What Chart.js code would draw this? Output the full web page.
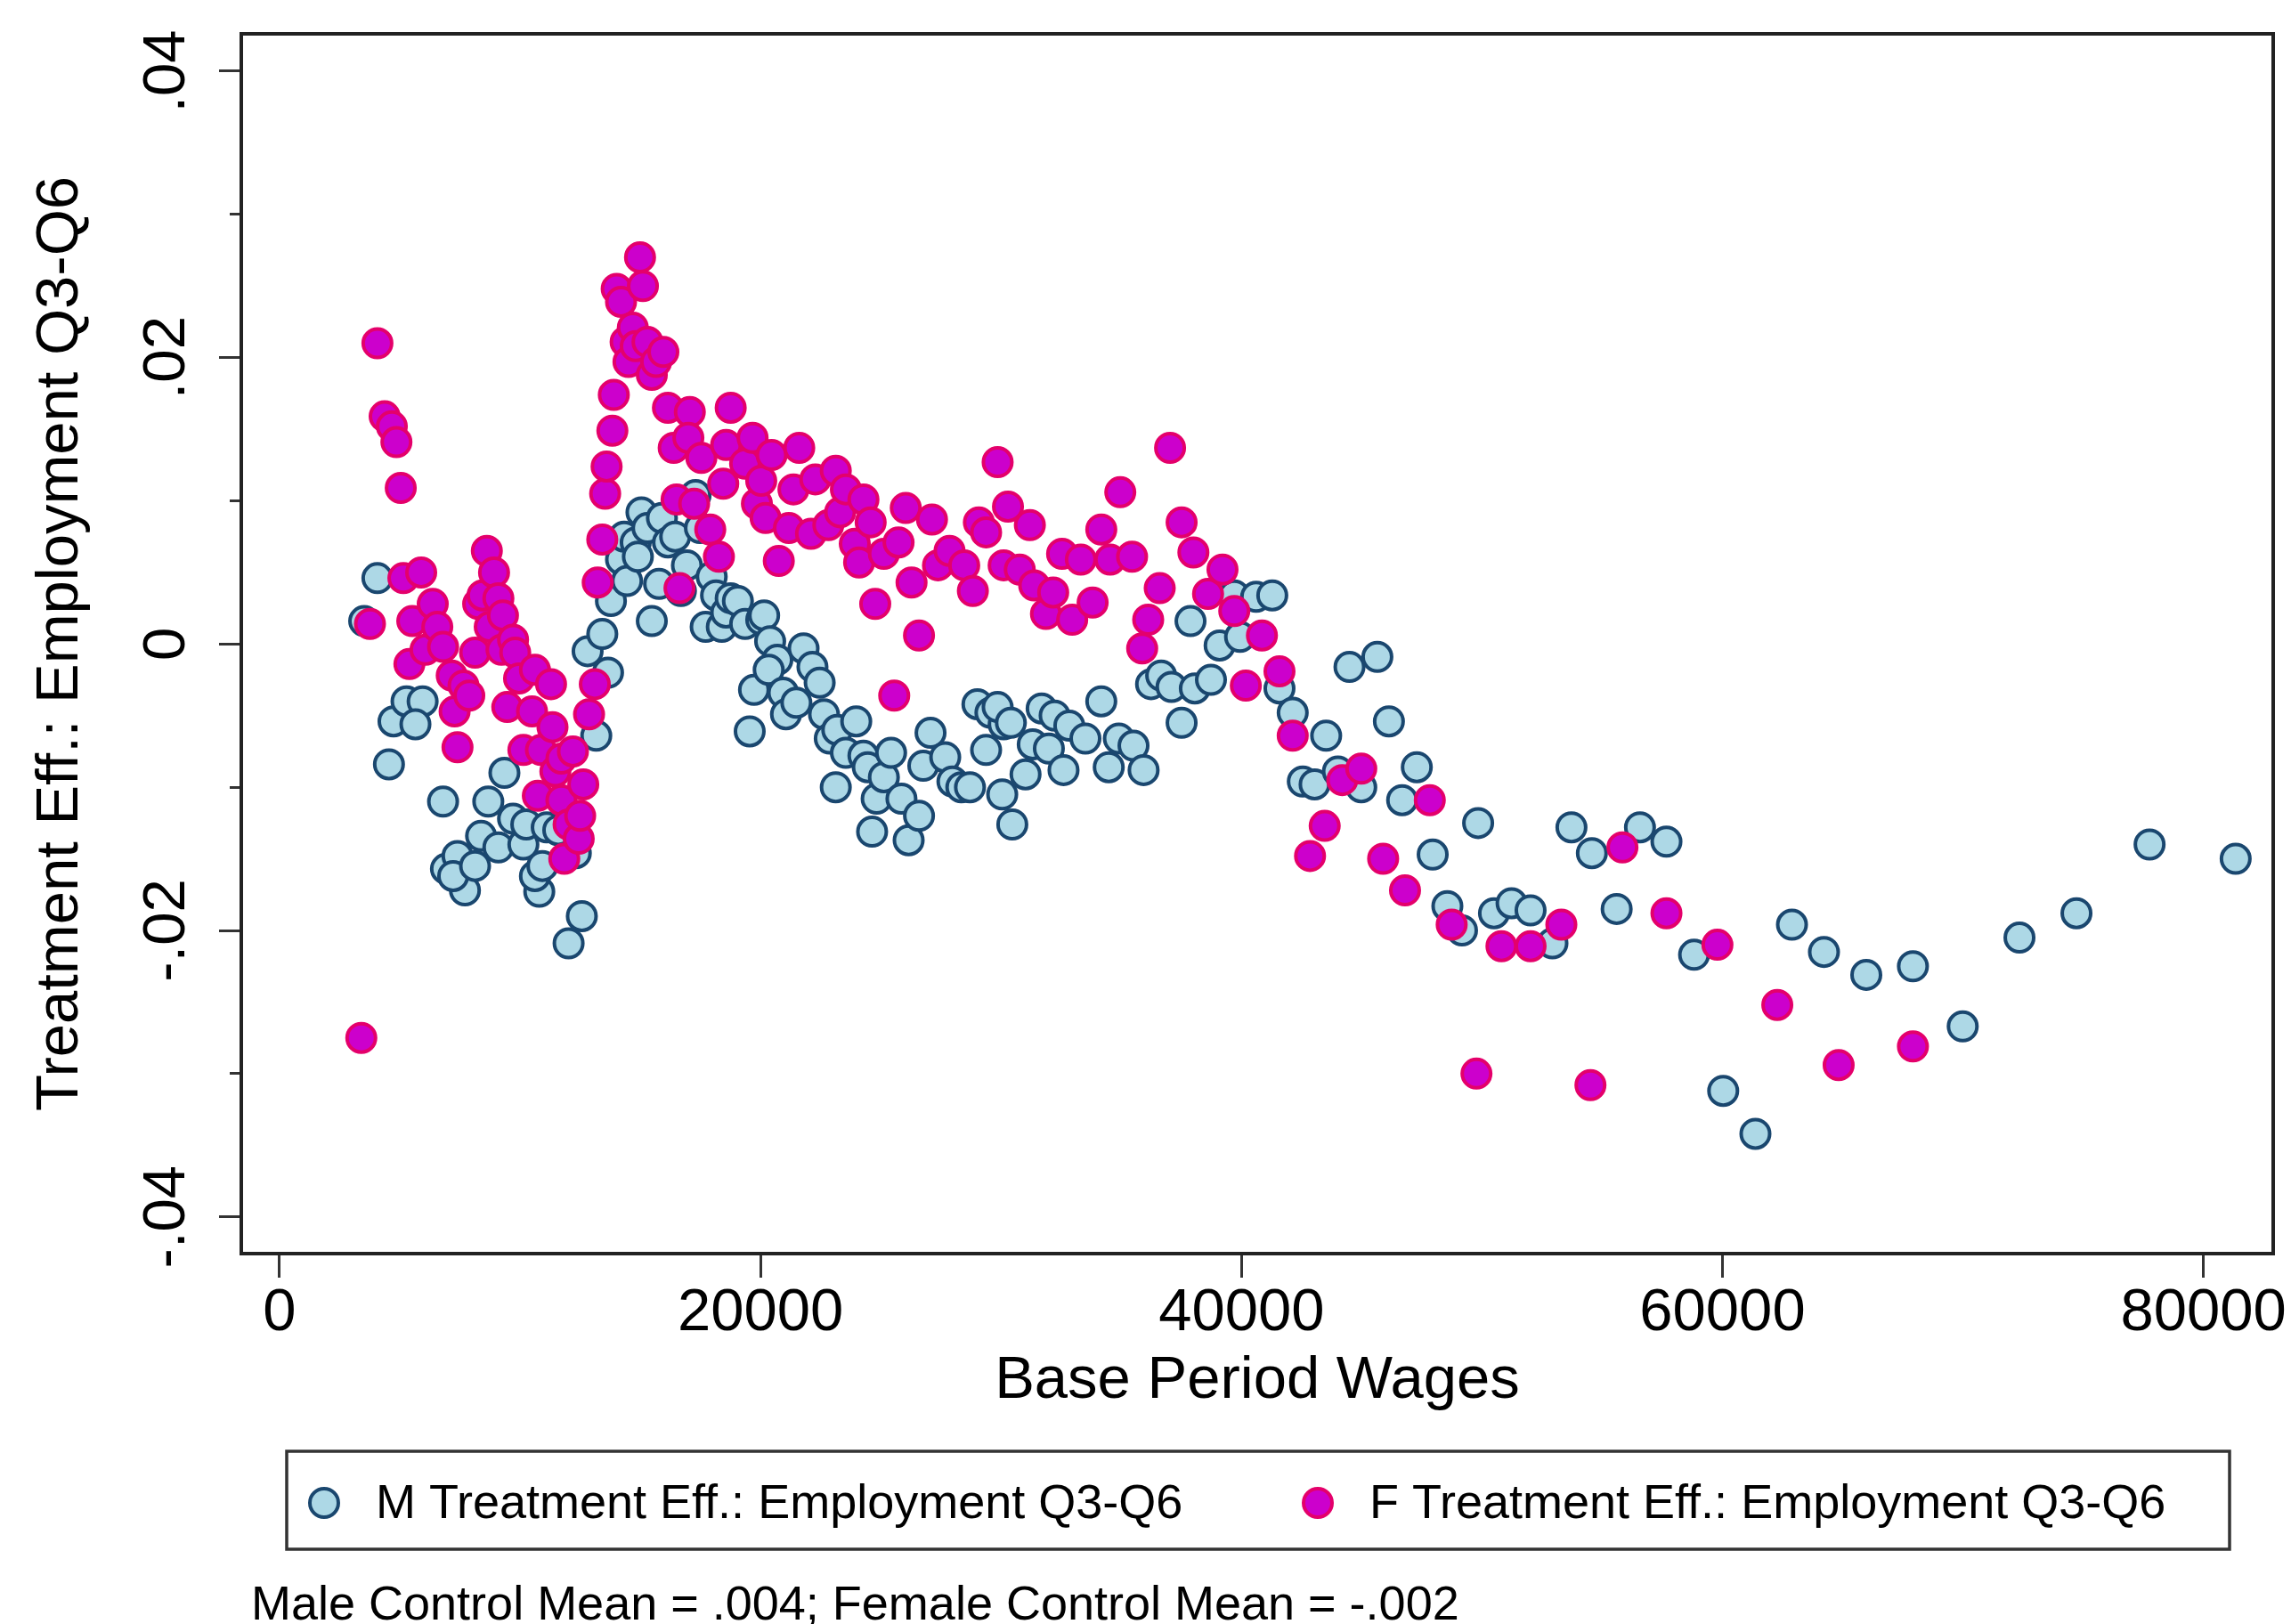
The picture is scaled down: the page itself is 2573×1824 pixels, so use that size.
<!DOCTYPE html>
<html>
<head>
<meta charset="utf-8">
<script src="https://cdn.jsdelivr.net/npm/chart.js@4.4.1/dist/chart.umd.min.js"></script>
<style>
html,body{margin:0;padding:0;background:#fff;}
#wrap{width:2573px;height:1824px;position:relative;}
</style>
</head>
<body>
<div id="wrap"><canvas id="c" width="2573" height="1824"></canvas></div>
<script>
// ---------- data ----------
const seriesLabels = ['M Treatment Eff.: Employment Q3-Q6', 'F Treatment Eff.: Employment Q3-Q6'];
const xTitle = 'Base Period Wages';
const yTitle = 'Treatment Eff.: Employment Q3-Q6';
const noteText = 'Male Control Mean = .004; Female Control Mean = -.002';

const xTicks = [0, 20000, 40000, 60000, 80000];
const xTickLabels = ['0', '20000', '40000', '60000', '80000'];
const yTicks = [-0.04, -0.02, 0, 0.02, 0.04];
const yTickLabels = ['-.04', '-.02', '0', '.02', '.04'];
const yMinorTicks = [-0.04, -0.03, -0.02, -0.01, 0, 0.01, 0.02, 0.03, 0.04];

// [base period wages, treatment effect]
const maleData = [
  [3520,0.0016],[4070,0.0046],[4550,-0.0084],[4740,-0.0054],[5280,-0.0040],[5950,-0.0040],[5650,-0.0056],[6800,-0.0110],[6920,-0.0157],[7400,-0.0148],
  [7710,-0.0172],[7220,-0.0162],[8130,-0.0155],[8380,-0.0134],[8680,-0.0110],[9100,-0.0142],[9350,-0.0090],[9710,-0.0122],[10140,-0.0140],[10260,-0.0126],
  [10800,-0.0173],[10620,-0.0162],[10930,-0.0155],[11110,-0.0128],[11590,-0.0130],[12320,-0.0146],[12570,-0.0190],[12020,-0.0209],[13170,-0.0064],[12810,-0.0005],
  [13420,0.0007],[13660,-0.0020],[13780,0.0030],[14200,0.0059],[14330,0.0075],[14450,0.0044],[14810,0.0071],[14900,0.0061],[15050,0.0092],[15300,0.0081],
  [15480,0.0016],[15780,0.0042],[15900,0.0088],[16150,0.0071],[16450,0.0075],[16690,0.0037],[16940,0.0055],[17300,0.0104],[17480,0.0081],[17720,0.0012],
  [17970,0.0047],[18150,0.0034],[18390,0.0012],[18570,0.0022],[18760,0.0032],[19060,0.0030],[19360,0.0014],[19550,-0.0061],[19730,-0.0032],[20030,0.0017],
  [20150,0.0020],[20400,0.0002],[20700,-0.0011],[20340,-0.0018],[20940,-0.0034],[21060,-0.0049],[21490,-0.0041],[21790,-0.0003],[22160,-0.0016],[22460,-0.0027],
  [22640,-0.0049],[22880,-0.0066],[23130,-0.0100],[23190,-0.0060],[23550,-0.0076],[23980,-0.0054],[24280,-0.0078],[24460,-0.0086],[24640,-0.0131],[24830,-0.0108],
  [25130,-0.0093],[25430,-0.0076],[25860,-0.0108],[26160,-0.0137],[26590,-0.0120],[26770,-0.0085],[27070,-0.0062],[27680,-0.0079],[27980,-0.0096],[28350,-0.0100],
  [28710,-0.0100],[29020,-0.0042],[29380,-0.0074],[29560,-0.0048],[30110,-0.0056],[30050,-0.0105],[30470,-0.0126],[29860,-0.0044],[30410,-0.0055],[31020,-0.0091],
  [31320,-0.0070],[31690,-0.0045],[31990,-0.0073],[32230,-0.0050],[32600,-0.0088],[32840,-0.0057],[33510,-0.0066],[34170,-0.0040],[34480,-0.0086],[34900,-0.0066],
  [35510,-0.0071],[35930,-0.0088],[36240,-0.0028],[36660,-0.0022],[37090,-0.0030],[37510,-0.0055],[37880,0.0016],[38060,-0.0031],[38730,-0.0025],[39090,-0.0001],
  [39700,0.0034],[39940,0.0005],[40610,0.0033],[41280,0.0034],[41580,-0.0031],[42130,-0.0048],[42550,-0.0096],[43040,-0.0098],[43520,-0.0064],[44010,-0.0089],
  [44490,-0.0016],[44980,-0.0100],[45650,-0.0009],[46130,-0.0054],[46680,-0.0109],[47290,-0.0086],[47950,-0.0147],[48560,-0.0183],[49170,-0.0200],[49840,-0.0125],
  [50500,-0.0188],[51230,-0.0181],[52020,-0.0186],[52930,-0.0209],[53720,-0.0128],[54570,-0.0146],[55600,-0.0185],[56570,-0.0128],[57670,-0.0138],[58820,-0.0217],
  [60030,-0.0312],[61370,-0.0342],[62890,-0.0196],[64220,-0.0215],[65980,-0.0231],[67920,-0.0225],[69990,-0.0267],[72350,-0.0205],[74720,-0.0188],[77760,-0.0140],
  [81340,-0.0150]
];

const femaleData = [
  [3400,-0.0275],[3760,0.0014],[4070,0.0210],[4370,0.0159],[4670,0.0152],[4860,0.0141],[5040,0.0109],[5150,0.0046],[5400,-0.0014],[5520,0.0016],
  [5890,0.0050],[6070,-0.0004],[6370,0.0028],[6560,0.0012],[6800,-0.0002],[7160,-0.0022],[7280,-0.0047],[7400,-0.0072],[7650,-0.0029],[7890,-0.0036],
  [8130,-0.0006],[8260,0.0028],[8440,0.0034],[8620,0.0065],[8740,0.0012],[8920,0.0050],[9100,0.0032],[9290,0.0020],[9230,-0.0004],[9470,-0.0044],
  [9710,0.0003],[9800,-0.0006],[9960,-0.0024],[10140,-0.0074],[10620,-0.0018],[10500,-0.0047],[10870,-0.0074],[10740,-0.0106],[11290,-0.0028],[11350,-0.0058],
  [11470,-0.0089],[11720,-0.0080],[11720,-0.0109],[11840,-0.0150],[12020,-0.0126],[12200,-0.0075],[12440,-0.0136],[12500,-0.0120],[12630,-0.0098],[12870,-0.0049],
  [13110,-0.0028],[13230,0.0043],[13420,0.0073],[13540,0.0105],[13600,0.0124],[13840,0.0149],[13900,0.0174],[14020,0.0248],[14200,0.0239],[14390,0.0211],
  [14510,0.0197],[14690,0.0221],[14810,0.0208],[14990,0.0270],[15110,0.0250],[15300,0.0211],[15480,0.0188],[15660,0.0197],[15960,0.0204],[16150,0.0165],
  [16390,0.0137],[16510,0.0101],[16630,0.0039],[17060,0.0162],[17000,0.0144],[17240,0.0098],[17540,0.0130],[17910,0.0080],[18270,0.0061],[18450,0.0112],
  [18570,0.0139],[18760,0.0165],[19360,0.0126],[19670,0.0144],[19850,0.0098],[20030,0.0114],[20210,0.0088],[20460,0.0132],[20760,0.0058],[21180,0.0081],
  [21370,0.0108],[21610,0.0137],[22100,0.0077],[22280,0.0115],[22820,0.0083],[23130,0.0121],[23310,0.0092],[23550,0.0108],[23920,0.0070],[24100,0.0057],
  [24280,0.0101],[24580,0.0085],[24770,0.0028],[25130,0.0063],[25740,0.0071],[25560,-0.0036],[26040,0.0095],[26280,0.0043],[26590,0.0006],[27130,0.0087],
  [27380,0.0055],[27860,0.0065],[28470,0.0055],[28830,0.0037],[29080,0.0085],[29380,0.0078],[29860,0.0127],[30110,0.0055],[30290,0.0096],[30780,0.0052],
  [31200,0.0083],[31380,0.0041],[31870,0.0021],[32170,0.0036],[32540,0.0063],[32960,0.0017],[33320,0.0059],[33810,0.0029],[34170,0.0080],[34540,0.0059],
  [34960,0.0106],[35450,0.0061],[35870,-0.0003],[36120,0.0017],[36600,0.0039],[37030,0.0137],[37510,0.0085],[38000,0.0064],[38610,0.0035],[39210,0.0052],
  [39700,0.0023],[40180,-0.0029],[40850,0.0006],[41580,-0.0019],[42130,-0.0064],[42850,-0.0148],[43460,-0.0127],[44190,-0.0095],[44980,-0.0087],[45890,-0.0150],
  [46800,-0.0172],[47830,-0.0109],[48740,-0.0196],[49770,-0.0300],[50810,-0.0211],[52020,-0.0211],[53300,-0.0196],[54510,-0.0308],[55840,-0.0142],[57670,-0.0188],
  [59790,-0.0210],[62280,-0.0252],[64830,-0.0294],[67920,-0.0281]
];

// ---------- styling ----------
const FONT = '"Liberation Sans", Arial, Helvetica, sans-serif';
const maleFill = '#ADD8E6', maleEdge = '#1A476F';
const femFill = '#CC00CC', femEdge = '#E4006B';
const PT_R = 16, PT_BW = 4;

Chart.defaults.font.family = FONT;
Chart.defaults.color = '#000';

const frameAndLegend = {
  id: 'frameAndLegend',
  afterDraw(chart) {
    const ctx = chart.ctx, a = chart.chartArea;
    ctx.save();
    // plot region frame
    ctx.strokeStyle = '#222';
    ctx.lineWidth = 4;
    ctx.strokeRect(a.left, a.top, a.right - a.left, a.bottom - a.top);
    // legend box
    ctx.lineWidth = 3.5;
    ctx.strokeStyle = '#333';
    ctx.strokeRect(322, 1630, 2182, 110);
    const markX = [364, 1480], textX = [422, 1538], cy = 1688;
    chart.data.datasets.forEach((ds, i) => {
      ctx.beginPath();
      ctx.arc(markX[i], cy, PT_R, 0, Math.PI * 2);
      ctx.fillStyle = ds.pointBackgroundColor;
      ctx.fill();
      ctx.lineWidth = PT_BW;
      ctx.strokeStyle = ds.pointBorderColor;
      ctx.stroke();
      ctx.fillStyle = '#000';
      ctx.font = '54px ' + FONT;
      ctx.textBaseline = 'middle';
      ctx.textAlign = 'left';
      ctx.fillText(ds.label, textX[i], cy + 2);
    });
    // note
    ctx.font = '54px ' + FONT;
    ctx.fillStyle = '#000';
    ctx.textBaseline = 'middle';
    ctx.fillText(noteText, 282, 1804);
    ctx.restore();
  }
};

const toPts = arr => arr.map(p => ({x: p[0], y: p[1]}));
const yMin = -0.042568, yMax = 0.042611;

new Chart(document.getElementById('c'), {
  type: 'scatter',
  data: {
    datasets: [
      {
        label: seriesLabels[0],
        data: toPts(maleData),
        pointBackgroundColor: maleFill,
        pointBorderColor: maleEdge,
        pointBorderWidth: PT_BW,
        pointRadius: PT_R,
        pointHoverRadius: PT_R,
        order: 1,
        yAxisID: 'y'
      },
      {
        label: seriesLabels[1],
        data: toPts(femaleData),
        pointBackgroundColor: femFill,
        pointBorderColor: femEdge,
        pointBorderWidth: PT_BW,
        pointRadius: PT_R,
        pointHoverRadius: PT_R,
        order: 0,
        yAxisID: 'y'
      }
    ]
  },
  options: {
    responsive: false,
    animation: false,
    devicePixelRatio: 1,
    layout: {padding: {top: 38, right: 18, left: 0, bottom: 239}},
    plugins: {legend: {display: false}, tooltip: {enabled: false}},
    scales: {
      x: {
        type: 'linear',
        min: -1590, max: 82900,
        afterBuildTicks: s => { s.ticks = xTicks.map(v => ({value: v})); },
        afterFit: s => { s.height = 177; },
        ticks: {
          callback: (v, i) => xTickLabels[i],
          autoSkip: false, maxRotation: 0, minRotation: 0,
          padding: 0,
          font: {size: 67, family: FONT},
          color: '#000'
        },
        grid: {drawOnChartArea: false, drawTicks: true, tickLength: 27, tickWidth: 3, tickColor: '#333'},
        border: {display: false},
        title: {display: true, text: xTitle, font: {size: 67, family: FONT, lineHeight: 1}, color: '#000', padding: {top: 0, bottom: 0}}
      },
      yMinor: {
        type: 'linear', position: 'left', weight: 0,
        min: yMin, max: yMax,
        afterBuildTicks: s => { s.ticks = yMinorTicks.map(v => ({value: v})); },
        afterFit: s => { s.width = 0; },
        ticks: {display: false},
        grid: {drawOnChartArea: false, drawTicks: true, tickLength: 13, tickWidth: 3, tickColor: '#333'},
        border: {display: false}
      },
      y: {
        type: 'linear', position: 'left', weight: 1,
        min: yMin, max: yMax,
        afterBuildTicks: s => { s.ticks = yTicks.map(v => ({value: v})); },
        afterFit: s => { s.width = 271; },
        ticks: {
          callback: (v, i) => yTickLabels[i],
          autoSkip: false, minRotation: 90, maxRotation: 90,
          crossAlign: 'center',
          padding: 0,
          font: {size: 67, family: FONT, lineHeight: 1},
          color: '#000'
        },
        grid: {drawOnChartArea: false, drawTicks: true, tickLength: 25, tickWidth: 3, tickColor: '#333'},
        border: {display: false},
        title: {display: true, text: yTitle, font: {size: 67, family: FONT, lineHeight: 1}, color: '#000', padding: {top: 35, bottom: 0}}
      }
    }
  },
  plugins: [frameAndLegend]
});
</script>
</body>
</html>
